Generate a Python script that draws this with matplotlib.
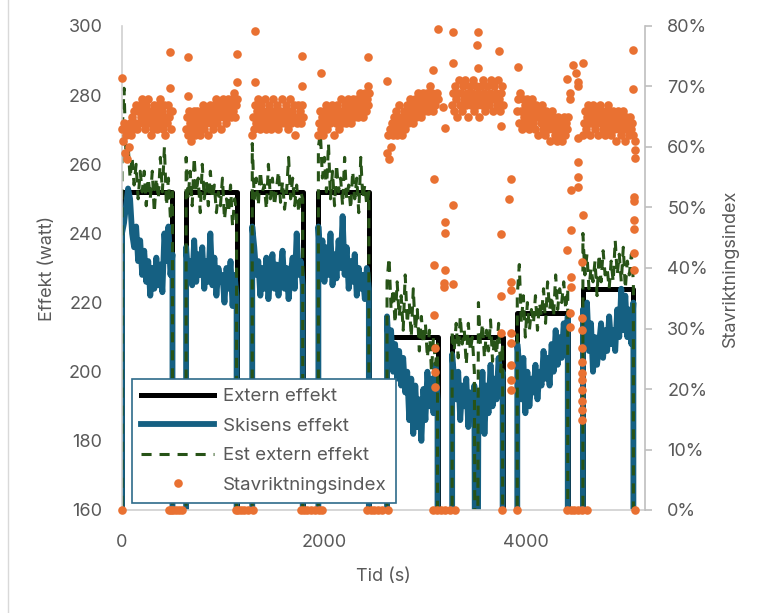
import numpy as np
import matplotlib.pyplot as plt
from matplotlib.lines import Line2D
from matplotlib.ticker import FixedLocator, FuncFormatter

plt.rcParams['font.family'] = ['Inter', 'DejaVu Sans']

# Intervaller (s): start för varje arbetsintervall, längd och samplingssteg
seg_start = [0, 635, 1290, 1945, 2625, 3270, 3915, 4565]
seg_len = 500
dt_eff = 20
dt_stav = 10

# Extern effekt (watt) per intervall
extern_level = [252, 252, 252, 252, 210, 210, 217, 224]

# Skisens effekt (watt), ett värde per 20 s
skisens = [
    [240, 243, 248, 253, 250, 240, 236, 242, 232, 238, 228, 235, 226, 232, 222, 230, 224, 233, 225, 231, 223, 240, 232, 242, 228, 234],
    [236, 228, 232, 225, 238, 226, 234, 228, 236, 224, 232, 226, 240, 225, 233, 222, 230, 226, 228, 220, 230, 224, 232, 219, 228, 222],
    [242, 236, 228, 232, 222, 230, 224, 233, 221, 228, 234, 224, 231, 222, 229, 235, 224, 230, 221, 228, 233, 224, 240, 228, 232, 225],
    [242, 230, 238, 226, 236, 228, 240, 225, 234, 227, 238, 230, 245, 228, 236, 224, 232, 226, 234, 222, 230, 224, 228, 221, 230, 224],
    [216, 205, 212, 200, 208, 198, 206, 196, 204, 194, 200, 186, 198, 182, 196, 184, 192, 180, 195, 186, 200, 190, 198, 188, 202, 192],
    [205, 198, 192, 200, 186, 196, 190, 198, 184, 194, 188, 196, 0, 194, 186, 200, 182, 196, 188, 202, 190, 198, 192, 204, 194, 200],
    [208, 202, 192, 204, 188, 200, 190, 198, 194, 202, 192, 200, 196, 206, 198, 204, 196, 208, 200, 212, 202, 210, 204, 214, 206, 216],
    [218, 212, 220, 206, 214, 200, 210, 202, 208, 214, 204, 212, 206, 216, 208, 212, 206, 218, 210, 224, 212, 222, 210, 218, 208, 220],
]

# Est extern effekt (watt), ett värde per 20 s
est_extern = [
    [268, 282, 262, 266, 256, 262, 254, 260, 250, 258, 252, 258, 248, 256, 250, 258, 246, 256, 250, 262, 252, 265, 248, 256, 244, 252],
    [262, 250, 258, 248, 262, 252, 256, 246, 260, 250, 255, 248, 258, 250, 254, 246, 252, 248, 256, 244, 250, 246, 254, 242, 250, 246],
    [266, 250, 256, 248, 258, 252, 254, 247, 260, 250, 256, 248, 253, 258, 249, 255, 247, 252, 262, 250, 256, 248, 254, 246, 252, 250],
    [265, 269, 256, 262, 252, 266, 250, 258, 248, 260, 252, 256, 248, 262, 250, 254, 247, 258, 250, 256, 246, 262, 250, 254, 248, 252],
    [226, 233, 218, 224, 214, 226, 216, 222, 212, 228, 214, 220, 210, 224, 212, 218, 206, 216, 208, 214, 204, 212, 200, 210, 202, 208],
    [212, 206, 214, 204, 216, 208, 212, 202, 214, 206, 210, 200, 0, 220, 208, 214, 204, 212, 206, 215, 203, 210, 205, 214, 200, 208],
    [222, 231, 214, 222, 210, 220, 212, 218, 214, 222, 212, 220, 216, 224, 214, 226, 218, 222, 216, 228, 218, 224, 220, 226, 218, 224],
    [240, 228, 234, 224, 230, 226, 232, 222, 234, 226, 235, 228, 230, 224, 232, 226, 238, 228, 234, 226, 236, 224, 232, 228, 234, 226],
]

# Stavriktningsindex (%), ett värde per 10 s
stav = [
    [63, 61, 64, 59, 62, 58, 63, 60, 64, 62, 65, 63, 66, 64, 67, 63, 66, 64, 67, 65, 68, 64, 66, 63, 67, 65,
     68, 64, 66, 62, 65, 63, 67, 64, 66, 63, 67, 65, 68, 64, 66, 63, 67, 62, 65, 64, 67, 65, 66, 63, 66],
    [63, 65, 62, 66, 64, 61, 65, 63, 66, 62, 64, 66, 63, 65, 62, 66, 64, 67, 63, 65, 64, 66, 62, 65, 67, 64,
     66, 63, 67, 65, 68, 64, 66, 65, 67, 63, 66, 68, 65, 67, 64, 68, 66, 67, 65, 68, 66, 69, 65, 67, 68],
    [62, 65, 63, 67, 64, 66, 68, 65, 63, 67, 64, 66, 65, 68, 63, 66, 64, 67, 65, 63, 66, 68, 64, 66, 65, 67,
     63, 66, 64, 68, 65, 66, 64, 67, 65, 63, 66, 68, 64, 66, 65, 67, 62, 65, 64, 67, 65, 66, 64, 67, 65],
    [62, 64, 66, 63, 65, 62, 66, 64, 67, 63, 65, 66, 64, 67, 65, 62, 66, 64, 67, 65, 63, 66, 68, 64, 66, 65,
     67, 64, 66, 68, 65, 67, 64, 66, 68, 65, 67, 66, 68, 65, 67, 69, 66, 68, 65, 67, 69, 66, 68, 67, 69],
    [59, 62, 58, 63, 60, 64, 62, 65, 63, 66, 62, 64, 67, 63, 65, 62, 64, 66, 63, 65, 67, 64, 66, 68, 65, 67,
     64, 66, 68, 65, 67, 69, 66, 68, 65, 67, 69, 66, 68, 67, 69, 66, 68, 70, 67, 69, 66, 68, 67, 69, 68],
    [67, 69, 66, 70, 68, 65, 69, 71, 67, 69, 66, 70, 68, 71, 67, 69, 65, 68, 70, 67, 69, 71, 66, 68, 70, 67,
     69, 65, 68, 70, 67, 71, 69, 66, 68, 70, 67, 69, 71, 68, 66, 70, 68, 69, 67, 71, 68, 66, 69, 70, 67],
    [66, 68, 64, 69, 66, 63, 68, 65, 67, 64, 68, 66, 63, 67, 65, 68, 64, 66, 63, 67, 65, 62, 66, 64, 67, 63,
     65, 62, 66, 64, 63, 65, 61, 64, 66, 63, 65, 62, 64, 61, 65, 63, 62, 64, 61, 63, 65, 62, 64, 63, 65],
    [62, 64, 66, 63, 65, 67, 64, 62, 66, 64, 67, 65, 63, 66, 64, 62, 65, 67, 64, 66, 63, 65, 62, 66, 64, 67,
     63, 65, 62, 64, 66, 63, 65, 61, 64, 66, 63, 65, 62, 64, 66, 63, 61, 65, 63, 64, 62, 65, 63, 64, 62],
]

# Enstaka index-värden vid intervallstart/-slut (tid s, %)
stav_extra_t = [0, 475, 475, 653, 653, 1139, 1139, 1317, 1317, 1782, 1782, 1970, 2436, 2436, 2624,
                3079, 3089, 3089, 3089, 3099, 3099, 3099,
                3129, 3178, 3198, 3198, 3198, 3198, 3188, 3188, 3277, 3277, 3277, 3277,
                3525, 3515, 3525, 3733, 3752, 3752, 3752, 3752,
                3851, 3832, 3851, 3851, 3851, 3851, 3851, 3851, 3851, 3921,
                4406, 4406, 4436, 4436, 4436, 4436, 4446, 4446, 4446, 4446, 4465, 4495,
                4515, 4515, 4515, 4515, 4515, 4515, 4564, 4564,
                4554, 4554, 4554, 4554, 4554, 4554, 4554, 4554, 4554, 4554, 4554,
                5059, 5059, 5079, 5079, 5079, 5069, 5069, 5069, 5069, 5069, 5069]
stav_extra_v = [71.4, 75.7, 69.8, 74.9, 68.4, 75.4, 70.7, 79.2, 70.7, 75.0, 70.0, 72.2, 74.9, 70.0, 70.9,
                72.7, 54.7, 40.5, 32.2, 26.8, 22.8, 20.3,
                79.5, 66.6, 63.1, 47.6, 45.8, 39.7, 37.5, 36.9, 79.0, 73.9, 50.4, 37.4,
                79.0, 76.9, 73.0, 75.9, 63.5, 45.6, 35.4, 29.3,
                54.7, 51.4, 37.7, 36.4, 29.3, 27.6, 24.0, 21.5, 19.8, 73.2,
                71.2, 43.0, 69.0, 68.0, 32.5, 30.2, 46.3, 38.5, 36.9, 52.9, 73.5, 72.2,
                70.8, 70.0, 61.5, 57.5, 55.0, 53.4, 73.9, 48.8,
                41.0, 31.7, 29.8, 26.8, 24.5, 22.6, 21.5, 19.8, 18.0, 16.5, 14.9,
                76.0, 69.6, 61.0, 59.5, 58.2, 51.7, 51.0, 48.0, 46.4, 42.5, 39.7]

# Tidpunkter i vilan där indexet är 0 %
stav_zero_t = [0, 470, 490, 510, 530, 560, 590, 1130, 1150, 1175, 1210, 1250, 1300,
               1770, 1800, 1835, 1870, 1910, 1950, 1985, 2430, 2465, 2500, 2540, 2580, 2630,
               3085, 3120, 3160, 3200, 3250, 3300, 3762, 3911,
               4410, 4445, 4480, 4520, 4560, 4610, 5079]


def bygg_serie(varden, dt):
    # lägger till 0 före och efter varje intervall så att linjen går ner i vilan
    t, v = [], []
    for s, vals in zip(seg_start, varden):
        ts = s + dt * np.arange(len(vals))
        t += [s] + list(ts) + [ts[-1]]
        v += [0] + list(vals) + [0]
    return np.array(t), np.array(v)


ext_t, ext_v = [], []
for s, niva in zip(seg_start, extern_level):
    ext_t += [s, s, s + seg_len, s + seg_len]
    ext_v += [0, niva, niva, 0]

skis_t, skis_v = bygg_serie(skisens, dt_eff)
est_t, est_v = bygg_serie(est_extern, dt_eff)

stav_t = np.concatenate([s + dt_stav * np.arange(len(v)) for s, v in zip(seg_start, stav)]
                        + [np.array(stav_extra_t), np.array(stav_zero_t)])
stav_v = np.concatenate([np.array(v, dtype=float) for v in stav]
                        + [np.array(stav_extra_v), np.zeros(len(stav_zero_t))])

grey = '#595959'
fig = plt.figure(figsize=(7.79, 6.13), dpi=100)
ax = fig.add_axes([122 / 779, 1 - 510 / 613, (645 - 122) / 779, (510 - 26) / 613])
ax2 = ax.twinx()

l1, = ax.plot(ext_t, ext_v, color='black', lw=3.6, label='Extern effekt')
l2, = ax.plot(skis_t, skis_v, color='#156082', lw=4.2, label='Skisens effekt')
l3, = ax.plot(est_t, est_v, color='#275317', lw=2.2, ls=(0, (3.3, 2.6)), label='Est extern effekt')
l4, = ax2.plot(stav_t, stav_v, 'o', ms=6.2, color='#E97132', mec='none', clip_on=False,
               label='Stavriktningsindex')

ax.set_xlim(0, 5180)
ax.set_ylim(160, 300)
ax.xaxis.set_major_locator(FixedLocator([0, 2000, 4000]))
ax.yaxis.set_major_locator(FixedLocator(range(160, 301, 20)))
ax2.set_ylim(0, 80)
ax2.yaxis.set_major_locator(FixedLocator(range(0, 81, 10)))
ax2.yaxis.set_major_formatter(FuncFormatter(lambda v, p: f'{v:.0f}%'))

ax.tick_params(axis='y', length=0, pad=14, labelsize=13, labelcolor=grey)
ax.tick_params(axis='x', length=0, pad=17, labelsize=13, labelcolor=grey)
ax2.tick_params(axis='y', length=5, width=1.2, color='#BFBFBF', pad=11, labelsize=13, labelcolor=grey)

for side in ['top', 'right']:
    ax.spines[side].set_visible(False)
for side in ['top', 'left', 'bottom']:
    ax2.spines[side].set_visible(False)
ax.spines['left'].set_color('#D0D0D0')
ax.spines['bottom'].set_color('#D0D0D0')
ax2.spines['right'].set_color('#BFBFBF')
for sp in [ax.spines['left'], ax.spines['bottom'], ax2.spines['right']]:
    sp.set_linewidth(1.2)

ax.set_ylabel('Effekt (watt)', fontsize=13, color=grey)
ax.yaxis.set_label_coords(-0.126, 0.5)
ax2.set_ylabel('Stavriktningsindex', fontsize=13, color=grey)
ax2.yaxis.set_label_coords(1.147, 0.5)
ax.set_xlabel('Tid (s)', fontsize=13, color=grey)
ax.xaxis.set_label_coords(0.5, -0.12)

leg = ax2.legend([l1, l2, l3, l4], [l.get_label() for l in [l1, l2, l3, l4]],
                 loc='lower left', bbox_to_anchor=(0.019, 0.0145), borderaxespad=0,
                 fontsize=13.5, handlelength=3.9, handletextpad=0.45, labelspacing=0.66,
                 borderpad=0.5, fancybox=False, framealpha=1, labelcolor=grey)
leg.get_frame().set_edgecolor('#2E6B8A')
leg.get_frame().set_linewidth(1.2)

fig.add_artist(Line2D([8 / 779, 8 / 779], [0, 1], transform=fig.transFigure, color='#D9D9D9', lw=1))

fig.savefig('out.png', dpi=100)
